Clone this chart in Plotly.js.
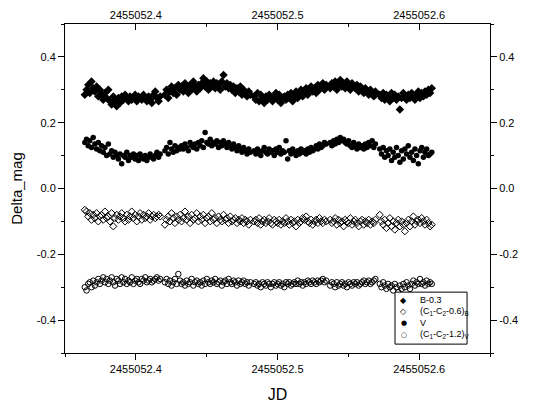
<!DOCTYPE html>
<html>
<head>
<meta charset="utf-8">
<script src="https://cdn.plot.ly/plotly-3.0.1.min.js"></script>
<style>html,body{margin:0;padding:0;background:#fff;}#chart{width:547px;height:410px;}</style>
</head>
<body>
<div id="chart"></div>
<script>
// ---- data ----
var JD0 = 2455052;
// time offsets (JD - 2455052)
var tOffset = [
0.3640,0.3652,0.3664,0.3675,0.3687,0.3699,0.3711,0.3723,0.3735,0.3746,0.3758,0.3770,0.3782,0.3794,0.3806,0.3817,0.3829,0.3841,0.3853,0.3865,0.3877,0.3888,0.3900,0.3912,0.3924,0.3936,0.3948,0.3959,0.3971,0.3983,0.3995,0.4007,0.4019,0.4030,0.4042,0.4054,0.4066,0.4078,0.4090,0.4101,0.4113,0.4125,0.4137,0.4149,0.4161,0.4172,
0.4205,0.4217,0.4229,0.4241,0.4252,0.4264,0.4276,0.4288,0.4300,0.4312,0.4323,0.4335,0.4347,0.4359,0.4371,0.4383,0.4394,0.4406,0.4418,0.4430,0.4442,0.4454,0.4465,0.4477,0.4489,0.4501,0.4513,0.4525,0.4536,0.4548,0.4560,0.4572,0.4584,0.4596,0.4607,0.4619,0.4631,0.4643,0.4655,0.4667,0.4678,0.4690,0.4702,0.4714,0.4726,0.4738,0.4749,0.4761,0.4773,0.4785,0.4797,0.4809,
0.4835,0.4847,0.4859,0.4870,0.4882,0.4894,0.4906,0.4918,0.4930,0.4941,0.4953,0.4965,0.4977,0.4989,0.5001,0.5012,0.5024,0.5036,0.5048,0.5060,0.5072,0.5083,0.5095,0.5107,0.5119,0.5131,0.5143,0.5154,0.5166,0.5178,0.5190,0.5202,0.5214,0.5225,0.5237,0.5249,0.5261,0.5273,0.5285,0.5296,0.5308,0.5320,0.5332,0.5344,
0.5372,0.5384,0.5396,0.5407,0.5419,0.5431,0.5443,0.5455,0.5467,0.5478,0.5490,0.5502,0.5514,0.5526,0.5538,0.5549,0.5561,0.5573,0.5585,0.5597,0.5609,0.5620,0.5632,0.5644,0.5656,0.5668,0.5680,0.5691,
0.5722,0.5734,0.5746,0.5757,0.5769,0.5781,0.5793,0.5805,0.5817,0.5828,0.5840,0.5852,0.5864,0.5876,0.5888,0.5899,0.5911,0.5923,0.5935,0.5947,0.5959,0.5970,0.5982,0.5994,0.6006,0.6018,0.6030,0.6041,0.6053,0.6065,0.6077,0.6089
];

var seriesNames = ['B-0.3', '(C<sub>1</sub>-C<sub>2</sub>-0.6)<sub>B</sub>', 'V', '(C<sub>1</sub>-C<sub>2</sub>-1.2)<sub>V</sub>'];
var legendGlyphs = ['\u25C6', '\u25C7', '\u25CF', '\u25CB'];

var bMinus03 = [
0.285,0.300,0.315,0.290,0.325,0.305,0.295,0.310,0.280,0.300,0.285,0.270,0.290,0.275,0.300,0.265,0.255,0.280,0.265,0.250,0.275,0.260,0.280,0.270,0.285,0.275,0.265,0.280,0.270,0.275,0.285,0.265,0.280,0.275,0.270,0.285,0.275,0.265,0.280,0.270,0.260,0.285,0.295,0.275,0.265,0.280,
0.285,0.300,0.275,0.295,0.310,0.290,0.305,0.285,0.315,0.300,0.310,0.295,0.320,0.305,0.290,0.315,0.300,0.325,0.310,0.295,0.315,0.305,0.320,0.335,0.310,0.325,0.300,0.320,0.310,0.325,0.305,0.320,0.315,0.300,0.325,0.345,0.310,0.320,0.305,0.315,0.300,0.310,0.290,0.305,0.295,0.310,0.285,0.300,0.290,0.280,0.295,0.285,
0.280,0.270,0.290,0.265,0.285,0.275,0.260,0.280,0.270,0.285,0.275,0.265,0.280,0.290,0.270,0.285,0.260,0.275,0.280,0.270,0.285,0.275,0.290,0.265,0.280,0.295,0.275,0.285,0.300,0.280,0.290,0.305,0.285,0.300,0.310,0.295,0.305,0.290,0.315,0.300,0.310,0.320,0.300,0.315,
0.305,0.320,0.310,0.325,0.300,0.315,0.330,0.310,0.320,0.305,0.325,0.315,0.300,0.320,0.310,0.305,0.315,0.295,0.310,0.300,0.290,0.305,0.295,0.285,0.300,0.290,0.280,0.295,
0.285,0.275,0.290,0.270,0.285,0.280,0.265,0.290,0.275,0.285,0.270,0.280,0.240,0.275,0.290,0.280,0.270,0.285,0.275,0.290,0.280,0.270,0.285,0.295,0.275,0.290,0.280,0.295,0.285,0.300,0.290,0.305
];

var cmpB = [
-0.065,-0.070,-0.085,-0.075,-0.095,-0.080,-0.090,-0.075,-0.100,-0.085,-0.080,-0.095,-0.070,-0.090,-0.085,-0.100,-0.075,-0.115,-0.090,-0.080,-0.095,-0.085,-0.075,-0.090,-0.100,-0.080,-0.095,-0.085,-0.070,-0.090,-0.080,-0.100,-0.085,-0.075,-0.095,-0.080,-0.090,-0.085,-0.075,-0.095,-0.085,-0.080,-0.090,-0.085,-0.080,-0.085,
-0.110,-0.095,-0.085,-0.100,-0.075,-0.090,-0.105,-0.085,-0.095,-0.080,-0.100,-0.090,-0.070,-0.095,-0.085,-0.105,-0.080,-0.095,-0.090,-0.075,-0.100,-0.085,-0.095,-0.080,-0.105,-0.090,-0.085,-0.100,-0.075,-0.095,-0.090,-0.105,-0.085,-0.095,-0.100,-0.080,-0.095,-0.090,-0.105,-0.085,-0.100,-0.095,-0.090,-0.105,-0.095,-0.100,-0.090,-0.105,-0.095,-0.100,-0.110,-0.095,
-0.100,-0.095,-0.105,-0.090,-0.110,-0.100,-0.095,-0.105,-0.100,-0.090,-0.105,-0.110,-0.095,-0.100,-0.105,-0.095,-0.110,-0.100,-0.105,-0.090,-0.100,-0.110,-0.095,-0.105,-0.100,-0.115,-0.095,-0.105,-0.100,-0.090,-0.095,-0.085,-0.100,-0.105,-0.095,-0.110,-0.100,-0.095,-0.105,-0.090,-0.100,-0.105,-0.095,-0.100,
-0.095,-0.105,-0.100,-0.090,-0.110,-0.095,-0.105,-0.100,-0.115,-0.095,-0.100,-0.105,-0.090,-0.110,-0.100,-0.095,-0.105,-0.115,-0.100,-0.095,-0.110,-0.100,-0.105,-0.095,-0.110,-0.100,-0.105,-0.095,
-0.080,-0.100,-0.110,-0.095,-0.120,-0.105,-0.090,-0.115,-0.100,-0.125,-0.105,-0.095,-0.115,-0.100,-0.110,-0.130,-0.105,-0.095,-0.115,-0.100,-0.085,-0.110,-0.100,-0.095,-0.105,-0.090,-0.100,-0.110,-0.095,-0.105,-0.115,-0.110
];

var vMag = [
0.140,0.150,0.130,0.145,0.125,0.155,0.135,0.120,0.140,0.115,0.130,0.110,0.125,0.100,0.135,0.105,0.115,0.095,0.110,0.100,0.090,0.105,0.075,0.100,0.095,0.110,0.085,0.100,0.095,0.105,0.090,0.100,0.085,0.105,0.095,0.090,0.100,0.085,0.095,0.105,0.095,0.090,0.100,0.110,0.095,0.105,
0.115,0.125,0.105,0.140,0.120,0.110,0.130,0.115,0.125,0.120,0.130,0.120,0.135,0.125,0.115,0.140,0.130,0.125,0.135,0.120,0.140,0.130,0.145,0.125,0.170,0.140,0.135,0.150,0.130,0.140,0.135,0.145,0.125,0.140,0.130,0.145,0.135,0.125,0.140,0.130,0.120,0.135,0.125,0.115,0.130,0.120,0.110,0.125,0.115,0.105,0.120,0.110,
0.115,0.105,0.120,0.110,0.100,0.115,0.125,0.110,0.105,0.120,0.110,0.115,0.100,0.120,0.110,0.125,0.105,0.115,0.110,0.145,0.090,0.115,0.105,0.120,0.110,0.100,0.115,0.105,0.120,0.110,0.115,0.105,0.120,0.110,0.125,0.115,0.120,0.130,0.120,0.135,0.125,0.130,0.140,0.135,
0.140,0.130,0.145,0.135,0.150,0.140,0.155,0.145,0.150,0.140,0.135,0.145,0.130,0.125,0.140,0.130,0.120,0.135,0.125,0.130,0.120,0.135,0.125,0.140,0.130,0.145,0.125,0.135,
0.120,0.105,0.125,0.095,0.115,0.100,0.120,0.085,0.110,0.095,0.125,0.100,0.080,0.115,0.090,0.120,0.105,0.130,0.095,0.110,0.085,0.120,0.100,0.075,0.115,0.125,0.095,0.110,0.120,0.100,0.105,0.110
];

var cmpV = [
-0.300,-0.310,-0.290,-0.285,-0.300,-0.280,-0.295,-0.285,-0.275,-0.290,-0.280,-0.270,-0.285,-0.275,-0.290,-0.280,-0.270,-0.285,-0.295,-0.275,-0.280,-0.290,-0.270,-0.285,-0.275,-0.290,-0.280,-0.285,-0.270,-0.290,-0.280,-0.275,-0.285,-0.290,-0.275,-0.280,-0.270,-0.285,-0.280,-0.275,-0.285,-0.280,-0.275,-0.270,-0.280,-0.275,
-0.285,-0.275,-0.290,-0.280,-0.295,-0.285,-0.275,-0.290,-0.260,-0.280,-0.290,-0.285,-0.295,-0.280,-0.290,-0.285,-0.275,-0.295,-0.285,-0.280,-0.290,-0.285,-0.295,-0.280,-0.290,-0.275,-0.285,-0.290,-0.280,-0.285,-0.275,-0.290,-0.285,-0.280,-0.295,-0.285,-0.280,-0.290,-0.275,-0.285,-0.290,-0.280,-0.285,-0.295,-0.280,-0.290,-0.285,-0.280,-0.290,-0.285,-0.295,-0.285,
-0.290,-0.285,-0.295,-0.290,-0.300,-0.285,-0.290,-0.295,-0.285,-0.290,-0.300,-0.290,-0.285,-0.295,-0.290,-0.285,-0.295,-0.290,-0.300,-0.285,-0.290,-0.285,-0.295,-0.290,-0.285,-0.290,-0.280,-0.290,-0.285,-0.295,-0.285,-0.290,-0.280,-0.285,-0.290,-0.280,-0.285,-0.290,-0.280,-0.285,-0.280,-0.275,-0.285,-0.280,
-0.295,-0.285,-0.290,-0.300,-0.285,-0.295,-0.290,-0.285,-0.295,-0.290,-0.300,-0.285,-0.290,-0.295,-0.285,-0.290,-0.285,-0.295,-0.290,-0.285,-0.280,-0.290,-0.285,-0.280,-0.290,-0.285,-0.280,-0.275,
-0.290,-0.300,-0.285,-0.295,-0.305,-0.290,-0.300,-0.295,-0.310,-0.290,-0.300,-0.315,-0.295,-0.305,-0.290,-0.300,-0.285,-0.295,-0.305,-0.290,-0.280,-0.295,-0.285,-0.290,-0.275,-0.290,-0.285,-0.295,-0.280,-0.290,-0.285,-0.290
];

var xTickVals = [2455052.4, 2455052.5, 2455052.6];
var xTickText = ['2455052.4', '2455052.5', '2455052.6'];
var xMinorVals = [2455052.35, 2455052.45, 2455052.55, 2455052.65];
var yTickVals = [-0.4, -0.2, 0, 0.2, 0.4];
var yTickText = ['-0.4', '-0.2', '0.0', '0.2', '0.4'];
var yMinorVals = [-0.5, -0.3, -0.1, 0.1, 0.3, 0.5];

// ---- build ----
var x = tOffset.map(function(t){ return JD0 + t; });

var traces = [
  {x: x, y: bMinus03, name: seriesNames[0], mode: 'markers', type: 'scatter',
   marker: {symbol: 'diamond', size: 6.5, color: '#000'}},
  {x: x, y: cmpB, name: seriesNames[1], mode: 'markers', type: 'scatter',
   marker: {symbol: 'diamond-open', size: 5.5, color: '#000', line: {width: 1, color: '#000'}}},
  {x: x, y: vMag, name: seriesNames[2], mode: 'markers', type: 'scatter',
   marker: {symbol: 'circle', size: 5.5, color: '#000'}},
  {x: x, y: cmpV, name: seriesNames[3], mode: 'markers', type: 'scatter',
   marker: {symbol: 'circle-open', size: 5.5, color: '#000', line: {width: 1, color: '#000'}}},
  {x: [], y: [], xaxis: 'x2', yaxis: 'y2', showlegend: false, type: 'scatter', mode: 'markers'}
];

var fnt = {family: 'Arial, "Liberation Sans", sans-serif', color: '#000'};
function axBase() {
  return {showgrid: false, zeroline: false, showline: true, linecolor: '#000', linewidth: 1,
          tickcolor: '#000', tickwidth: 1, tickfont: {family: fnt.family, size: 11, color: '#000'}};
}
var xa = Object.assign(axBase(), {
  range: [2455052.35, 2455052.65], tickmode: 'array', tickvals: xTickVals, ticktext: xTickText,
  ticks: 'outside', ticklen: 6,
  minor: {tickmode: 'array', tickvals: xMinorVals, ticks: 'outside', ticklen: 3, tickcolor: '#000', tickwidth: 1},
  title: {text: 'JD', font: {family: fnt.family, size: 16, color: '#000'}, standoff: 14}
});
var xa2 = Object.assign(axBase(), {
  overlaying: 'x', matches: 'x', side: 'top', tickmode: 'array', tickvals: xTickVals, ticktext: xTickText,
  ticks: 'inside', ticklen: 6,
  minor: {tickmode: 'array', tickvals: xMinorVals, ticks: 'inside', ticklen: 3, tickcolor: '#000', tickwidth: 1}
});
var ya = Object.assign(axBase(), {
  range: [-0.5, 0.5], tickmode: 'array', tickvals: yTickVals, ticktext: yTickText,
  ticks: 'outside', ticklen: 6,
  minor: {tickmode: 'array', tickvals: yMinorVals, ticks: 'outside', ticklen: 3, tickcolor: '#000', tickwidth: 1},
  title: {text: 'Delta_mag', font: {family: fnt.family, size: 15, color: '#000'}, standoff: 10}
});
var ya2 = Object.assign(axBase(), {
  overlaying: 'y', matches: 'y', side: 'right', tickmode: 'array', tickvals: yTickVals, ticktext: yTickText,
  ticks: 'outside', ticklen: 6,
  minor: {tickmode: 'array', tickvals: yMinorVals, ticks: 'outside', ticklen: 3, tickcolor: '#000', tickwidth: 1}
});

// custom compact legend (box + glyph + label), built from seriesNames / legendGlyphs
var legRowsY = [0.161, 0.127, 0.091, 0.055];
var annotations = [];
for (var i = 0; i < seriesNames.length; i++) {
  annotations.push({xref: 'paper', yref: 'paper', x: 0.797, y: legRowsY[i], xanchor: 'center', yanchor: 'middle',
    text: legendGlyphs[i], showarrow: false,
    font: {family: '"DejaVu Sans", sans-serif', size: (i === 2 || i === 3) ? 7 : 8, color: '#000'}});
  annotations.push({xref: 'paper', yref: 'paper', x: 0.831, y: legRowsY[i], xanchor: 'left', yanchor: 'middle',
    text: seriesNames[i], showarrow: false,
    font: {family: fnt.family, size: 9, color: '#000'}});
}
var shapes = [{type: 'rect', xref: 'paper', yref: 'paper', x0: 0.7765, x1: 0.946, y0: 0.027, y1: 0.185,
  line: {color: '#000', width: 1}, fillcolor: '#fff', layer: 'above'}];

var layout = {
  width: 547, height: 410,
  margin: {l: 65, r: 57, t: 24, b: 57, pad: 0},
  paper_bgcolor: '#fff', plot_bgcolor: '#fff',
  font: fnt,
  showlegend: false,
  xaxis: xa, xaxis2: xa2, yaxis: ya, yaxis2: ya2,
  shapes: shapes, annotations: annotations
};

Plotly.newPlot('chart', traces, layout, {staticPlot: true, displayModeBar: false});
</script>
</body>
</html>
